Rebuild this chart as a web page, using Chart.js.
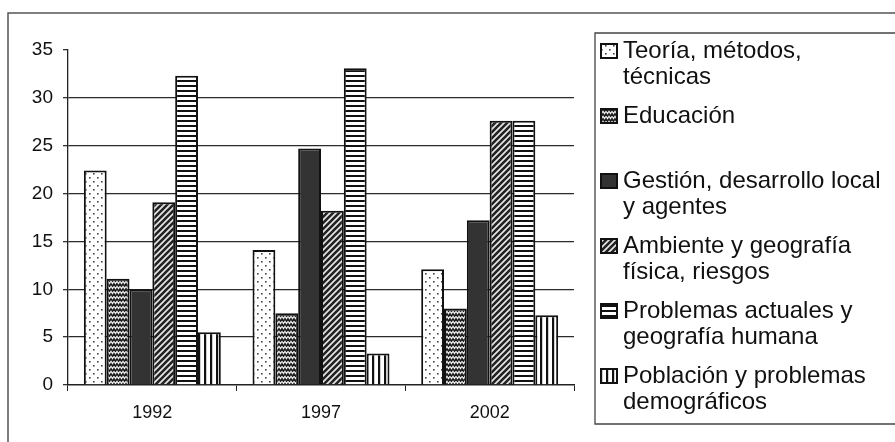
<!DOCTYPE html>
<html>
<head>
<meta charset="utf-8">
<script src="https://cdn.jsdelivr.net/npm/chart.js@4.4.1/dist/chart.umd.min.js"></script>
<style>
  html, body { margin: 0; padding: 0; background: #fff; }
  canvas { display: block; }
</style>
</head>
<body>
<canvas id="chart" width="895" height="442"></canvas>
<script>
const years = ['1992', '1997', '2002'];
const seriesNames = [
  ['Teoría, métodos,', 'técnicas'],
  ['Educación', ''],
  ['Gestión, desarrollo local', 'y agentes'],
  ['Ambiente y geografía', 'física, riesgos'],
  ['Problemas actuales y', 'geografía humana'],
  ['Población y problemas', 'demográficos']
];
const teoria = [22.4, 14.1, 12.1];
const educacion = [11.1, 7.5, 8.0];
const gestion = [10.0, 24.7, 17.2];
const ambiente = [19.1, 18.2, 27.6];
const problemas = [32.3, 33.1, 27.6];
const poblacion = [5.5, 3.3, 7.3];
const yTicks = [0, 5, 10, 15, 20, 25, 30, 35];

// fill patterns, drawn on small tiles
function makePattern(w, h, draw) {
  const c = document.createElement('canvas');
  c.width = w; c.height = h;
  const g = c.getContext('2d');
  draw(g, w, h);
  return g.createPattern(c, 'repeat');
}

const patterns = [
  makePattern(8, 8, (g) => {
    g.fillStyle = '#fff'; g.fillRect(0, 0, 8, 8);
    g.fillStyle = '#444';
    g.fillRect(1, 1, 1.6, 1.6);
    g.fillRect(5, 5, 1.6, 1.6);
  }),
  makePattern(6, 5, (g) => {
    g.fillStyle = '#1e1e1e'; g.fillRect(0, 0, 6, 5);
    g.strokeStyle = '#f0f0f0'; g.lineWidth = 1.1;
    g.beginPath();
    g.moveTo(0, 1.2); g.lineTo(1.5, 3.6); g.lineTo(3, 1.2); g.lineTo(4.5, 3.6); g.lineTo(6, 1.2);
    g.stroke();
  }),
  '#333333',
  makePattern(6, 6, (g) => {
    g.fillStyle = '#e6e6e6'; g.fillRect(0, 0, 6, 6);
    g.strokeStyle = '#222'; g.lineWidth = 2.6;
    g.beginPath();
    g.moveTo(-1, 7); g.lineTo(7, -1);
    g.moveTo(-4, 4); g.lineTo(4, -4);
    g.moveTo(2, 10); g.lineTo(10, 2);
    g.stroke();
  }),
  makePattern(4, 5, (g) => {
    g.fillStyle = '#fff'; g.fillRect(0, 0, 4, 5);
    g.fillStyle = '#111'; g.fillRect(0, 0, 4, 2);
  }),
  makePattern(6, 4, (g) => {
    g.fillStyle = '#fff'; g.fillRect(0, 0, 6, 4);
    g.fillStyle = '#111'; g.fillRect(0, 0, 2.2, 4);
  })
];

const values = [teoria, educacion, gestion, ambiente, problemas, poblacion];

const datasets = values.map((v, i) => ({
  label: seriesNames[i].join(' ').trim(),
  data: v,
  backgroundColor: patterns[i],
  borderColor: '#111',
  borderWidth: 2,
  borderSkipped: 'bottom',
  categoryPercentage: 0.812,
  barPercentage: 1
}));

// frame + legend box drawn on the same canvas
const frameAndLegend = {
  id: 'frameAndLegend',
  beforeDraw(chart) {
    const ctx = chart.ctx;
    ctx.save();
    ctx.fillStyle = '#fff';
    ctx.fillRect(0, 0, chart.width, chart.height);
    ctx.strokeStyle = '#555';
    ctx.lineWidth = 1.5;
    ctx.beginPath();
    ctx.moveTo(8, 442); ctx.lineTo(8, 13); ctx.lineTo(895, 13);
    ctx.stroke();
    ctx.restore();
  },
  afterDraw(chart) {
    const ctx = chart.ctx;
    ctx.save();
    ctx.strokeStyle = '#444';
    ctx.lineWidth = 1.3;
    ctx.beginPath();
    ctx.moveTo(896, 33); ctx.lineTo(595, 33); ctx.lineTo(595, 424); ctx.lineTo(896, 424);
    ctx.stroke();

    ctx.font = '24px "Liberation Sans", Arial, sans-serif';
    ctx.textBaseline = 'middle';
    seriesNames.forEach((lines, i) => {
      const y = 51 + i * 65;
      ctx.fillStyle = patterns[i];
      ctx.fillRect(601, y - 7, 16, 14);
      ctx.strokeStyle = '#111';
      ctx.lineWidth = 2;
      ctx.strokeRect(601, y - 7, 16, 14);
      ctx.fillStyle = '#111';
      lines.forEach((t, j) => ctx.fillText(t, 623, y + j * 26.5));
    });
    ctx.restore();
  }
};

new Chart(document.getElementById('chart'), {
  type: 'bar',
  data: { labels: years, datasets },
  options: {
    responsive: false,
    animation: false,
    devicePixelRatio: 1,
    layout: { padding: { left: 0, top: 50, right: 321, bottom: 12 } },
    plugins: { legend: { display: false }, tooltip: { enabled: false } },
    scales: {
      y: {
        min: 0,
        max: 35,
        afterBuildTicks: (s) => { s.ticks = yTicks.map(v => ({ value: v })); },
        afterFit: (s) => { s.width = 68; },
        ticks: {
          color: '#111',
          padding: 10,
          font: { family: '"Liberation Sans", Arial, sans-serif', size: 19 }
        },
        grid: {
          color: (c) => (c.tick && (c.tick.value === 35 || c.tick.value === 0)) ? 'rgba(0,0,0,0)' : '#2a2a2a',
          tickColor: '#333',
          tickLength: 5,
          lineWidth: 1.3
        },
        border: { display: true, color: '#222', width: 1.3 }
      },
      x: {
        afterFit: (s) => { s.height = 45; },
        ticks: {
          color: '#111',
          padding: 11,
          font: { family: '"Liberation Sans", Arial, sans-serif', size: 18 }
        },
        grid: {
          offset: true,
          drawOnChartArea: false,
          color: '#222',
          tickLength: 6
        },
        border: { display: true, color: '#222', width: 1.5 }
      }
    }
  },
  plugins: [frameAndLegend]
});
</script>
</body>
</html>
